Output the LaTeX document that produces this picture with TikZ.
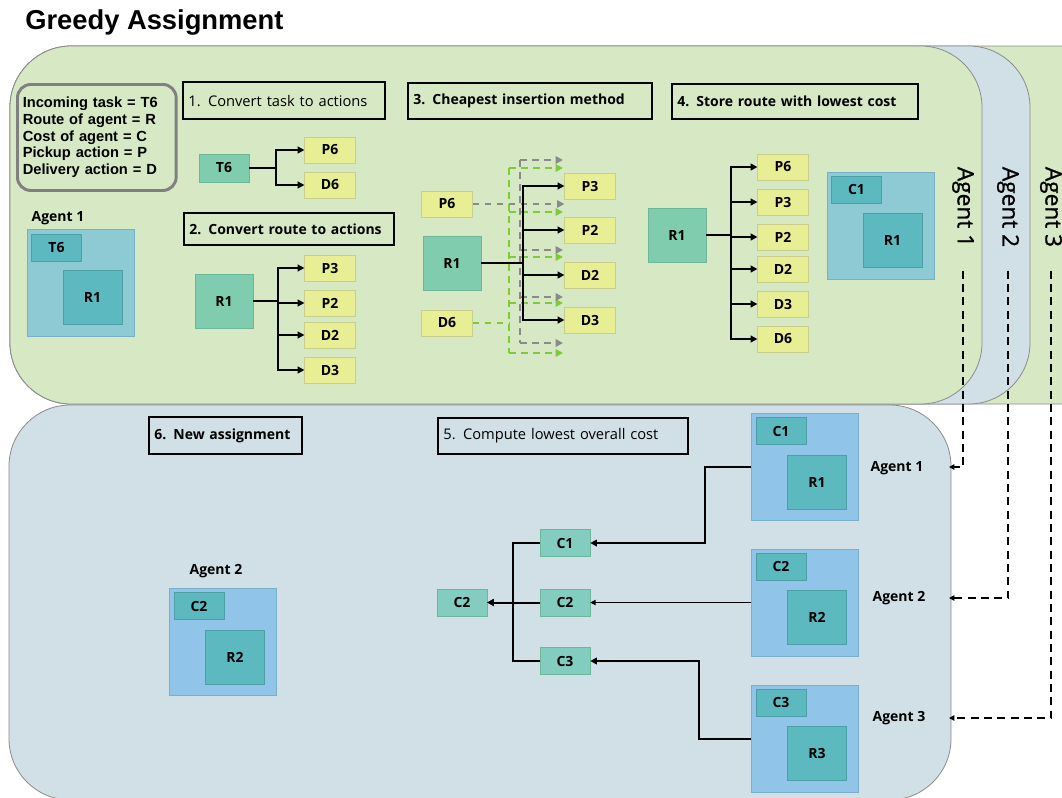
\documentclass[tikz,border=0pt]{standalone}
\usepackage{fontspec}
\setmainfont{Open Sans}
\newfontfamily\arialfont{Liberation Sans}
\newfontfamily\agentfont[FakeBold=1]{Open Sans}
\usetikzlibrary{positioning,arrows.meta}
\definecolor{panelgreen}{HTML}{D6E8C4}
\definecolor{panelblue}{HTML}{D1DFE6}
\definecolor{actyellow}{HTML}{E8EE94}
\definecolor{actedge}{HTML}{C8CE8C}
\definecolor{routeteal}{HTML}{80CCAE}
\definecolor{routeedge}{HTML}{6DB699}
\definecolor{costteal}{HTML}{82CDBF}
\definecolor{innerteal}{HTML}{5CB9C0}
\definecolor{inneredge}{HTML}{4E9EA5}
\definecolor{agenttop}{HTML}{8ECAD4}
\definecolor{agentlow}{HTML}{90C4E8}
\definecolor{agentedge}{HTML}{7AAFC9}
\definecolor{dashgray}{HTML}{8A8A8A}
\definecolor{dashgreen}{HTML}{7DCB3B}
\newcommand{\boxfont}{\bfseries\fontsize{10.5}{12}\selectfont}

\begin{document}
\begin{tikzpicture}[x=0.75pt, y=-0.75pt,
  panel/.style={draw=black!45, line width=0.6pt, rounded corners=46pt},
  stepbox/.style={draw=black, line width=1.6pt, anchor=north west, align=left, text width=#1, inner xsep=4pt, font=\fontsize{11}{13}\selectfont},
  key/.style={draw=black!50, line width=2.2pt, rounded corners=10pt, anchor=north west, align=left, text width=111pt, minimum height=79.5pt, inner xsep=4pt, font=\arialfont\bfseries\fontsize{11}{12.5}\selectfont},
  act/.style={draw=actedge, fill=actyellow, minimum width=38pt, minimum height=19.5pt, inner sep=0pt, font=\boxfont},
  route/.style={draw=routeedge, fill=routeteal, minimum width=43.5pt, minimum height=40.5pt, inner sep=0pt, font=\boxfont},
  task/.style={route, minimum width=37.5pt, minimum height=21pt},
  cost/.style={draw=routeedge, fill=costteal, minimum width=37.5pt, minimum height=20pt, inner sep=0pt, font=\boxfont},
  agent/.style={draw=agentedge, fill=#1, minimum size=80pt, inner sep=0pt},
  smallin/.style={draw=inneredge, fill=innerteal, minimum width=37.5pt, minimum height=20pt, inner sep=0pt, font=\boxfont},
  bigin/.style={draw=inneredge, fill=innerteal, minimum width=44pt, minimum height=40.5pt, inner sep=0pt, font=\boxfont},
  agname/.style={font=\bfseries\fontsize{10.5}{12}\selectfont},
  vname/.style={rotate=-90, font=\agentfont\fontsize{17}{20}\selectfont},
  arrow/.style={-{Triangle[length=5pt,width=5pt]}, line width=1.5pt},
  thinarrow/.style={-{Triangle[length=4pt,width=4pt]}, line width=0.8pt},
  gdash/.style={dashgray, dash pattern=on 5pt off 4pt, line width=1.4pt},
  gndash/.style={dashgreen, dash pattern=on 5pt off 4pt, line width=1.4pt},
  tip/.style={-{Triangle[length=5.5pt,width=5.5pt]}},
  agdash/.style={-{Triangle[length=4pt,width=4pt]}, dash pattern=on 6pt off 4pt, line width=1.1pt}]
  \useasboundingbox (0,0) rectangle (1062,797);
  \clip (0,0) rectangle (1062,797);
  \fill[white] (0,0) rectangle (1062,797);
  \node[anchor=base west, inner sep=0pt, font=\arialfont\bfseries\fontsize{20.5}{24}\selectfont] (title) at (25,29) {Greedy Assignment};

  % agent panels
  \draw[panel, fill=panelgreen] (10,46) rectangle (1120,404);
  \draw[panel, fill=panelblue] (10,46) rectangle (1030,404);
  \draw[panel, fill=panelgreen] (10,46) rectangle (982,404);
  \draw[panel, fill=panelblue] (9,405) rectangle (951,800);

  \node[key] (legend) at (16,83) {Incoming task = T6\\Route of agent = R\\Cost of agent = C\\Pickup action = P\\Delivery action = D};

  % current agent
  \node[agname] (a1name) at (58,218) {Agent 1};
  \node[agent=agenttop] (a1box) at (80.5,282.5) {};
  \node[smallin] (a1task) at (56.5,247.5) {T6};
  \node[bigin] (a1route) at (92.5,297.5) {R1};

  % 1. task to actions
  \node[stepbox=143.5pt, minimum height=27.75pt] (s1) at (182,81) {1. Convert task to actions};
  \node[task] (t6) at (224,168) {T6};
  \node[act] (p6a) at (330,150) {P6};
  \node[act] (d6a) at (330,185) {D6};
  \foreach \n in {p6a,d6a} \draw[arrow] (t6.east) -- ++(27,0) |- (\n);

  % 2. route to actions
  \node[stepbox=149.5pt, minimum height=24pt, font=\bfseries\fontsize{10.5}{13}\selectfont] (s2) at (183,212) {2. Convert route to actions};
  \node[route] (r1a) at (224,301) {R1};
  \node[act] (p3a) at (330,268) {P3};
  \node[act] (p2a) at (330,303) {P2};
  \node[act] (d2a) at (330,335) {D2};
  \node[act] (d3a) at (330,370) {D3};
  \foreach \n in {p3a,p2a,d2a,d3a} \draw[arrow] (r1a.east) -- ++(25,0) |- (\n);

  % 3. cheapest insertion
  \node[stepbox=175pt, minimum height=27pt, font=\bfseries\fontsize{10.5}{13}\selectfont] (s3) at (407,82) {3. Cheapest insertion method};
  \node[act] (p6b) at (447,204) {P6};
  \node[route] (r1b) at (452,263) {R1};
  \node[act] (d6b) at (447,323) {D6};
  \node[act] (p3b) at (590,186) {P3};
  \node[act] (p2b) at (590,230) {P2};
  \node[act] (d2b) at (590,275) {D2};
  \node[act] (d3b) at (590,320) {D3};
  \draw[gndash] (d6b.east) -- (509,323);
  \draw[gndash] (509,168) -- (509,353);
  \foreach \y in {168,212,257,303,353} \draw[gndash, tip] (509,\y) -- (563,\y);
  \draw[gdash, tip] (p6b.east) -- (p6b.east -| p3b.west);
  \draw[gdash] (520,160) -- (520,343);
  \foreach \y in {160,250,297,343} \draw[gdash, tip] (520,\y) -- (563,\y);
  \foreach \n in {p3b,p2b,d2b,d3b} \draw[arrow] (r1b.east) -- ++(42,0) |- (\n);

  % 4. store route
  \node[stepbox=176.5pt, minimum height=26.25pt, font=\bfseries\fontsize{10.5}{13}\selectfont] (s4) at (671,83) {4. Store route with lowest cost};
  \node[route] (r1c) at (677,235) {R1};
  \node[act] (p6c) at (783,167) {P6};
  \node[act] (p3c) at (783,202) {P3};
  \node[act] (p2c) at (783,237) {P2};
  \node[act] (d2c) at (783,269) {D2};
  \node[act] (d3c) at (783,304) {D3};
  \node[act] (d6c) at (783,339) {D6};
  \foreach \n in {p6c,p3c,p2c,d2c,d3c,d6c} \draw[arrow] (r1c.east) -- ++(25,0) |- (\n);
  \node[agent=agenttop] (s4box) at (880.5,225.5) {};
  \node[smallin] (s4cost) at (856.5,189.5) {C1};
  \node[bigin] (s4route) at (892.5,240.5) {R1};

  \node[vname] (v1) at (963,207) {Agent 1};
  \node[vname] (v2) at (1008,207) {Agent 2};
  \node[vname] (v3) at (1051,207) {Agent 3};

  % 5. lowest overall cost
  \node[stepbox=179.5pt, minimum height=27pt] (s5) at (437,417) {5. Compute lowest overall cost};
  \foreach \i/\y in {1/467,2/602.5,3/738.5} {
    \node[agent=agentlow] (ag\i) at (805,\y) {};
    \node[smallin] (agc\i) at (781,\y-36) {C\i};
    \node[bigin] (agr\i) at (817,\y+15) {R\i};
  }
  \node[agname] (lab1) at (897,468) {Agent 1};
  \node[agname] (lab2) at (899,598) {Agent 2};
  \node[agname] (lab3) at (899,718) {Agent 3};
  \coordinate (in1) at (949,467);
  \coordinate (in2) at (949,598);
  \coordinate (in3) at (949,718);
  \draw[agdash, shorten <=14pt] (v1.east) |- (in1);
  \draw[agdash, shorten <=14pt] (v2.east) |- (in2);
  \draw[agdash, shorten <=14pt] (v3.east) |- (in3);

  \node[cost] (c1) at (565,543) {C1};
  \node[cost] (c2) at (565,602.5) {C2};
  \node[cost] (c3) at (565,661) {C3};
  \node[cost] (best) at (462,602.5) {C2};
  \draw[arrow] (ag1.west) -- ++(-46,0) |- (c1);
  \draw[thinarrow] (ag2.west) -- (c2);
  \draw[arrow] (ag3.west) -- ++(-52,0) |- (c3);
  \draw[arrow] (c1.west) -- ++(-27,0) |- (best);
  \draw[arrow] (c3.west) -- ++(-27,0) |- (best);
  \draw[arrow] (c2) -- (best);

  % 6. new assignment
  \node[stepbox=106.75pt, minimum height=27.75pt, font=\bfseries\fontsize{10.5}{13}\selectfont] (s6) at (148,416) {6. New assignment};
  \node[agname] (a2name) at (216,571) {Agent 2};
  \node[agent=agentlow] (a2box) at (223,642) {};
  \node[smallin] (a2cost) at (199,606) {C2};
  \node[bigin] (a2route) at (235,657) {R2};
\end{tikzpicture}
\end{document}
